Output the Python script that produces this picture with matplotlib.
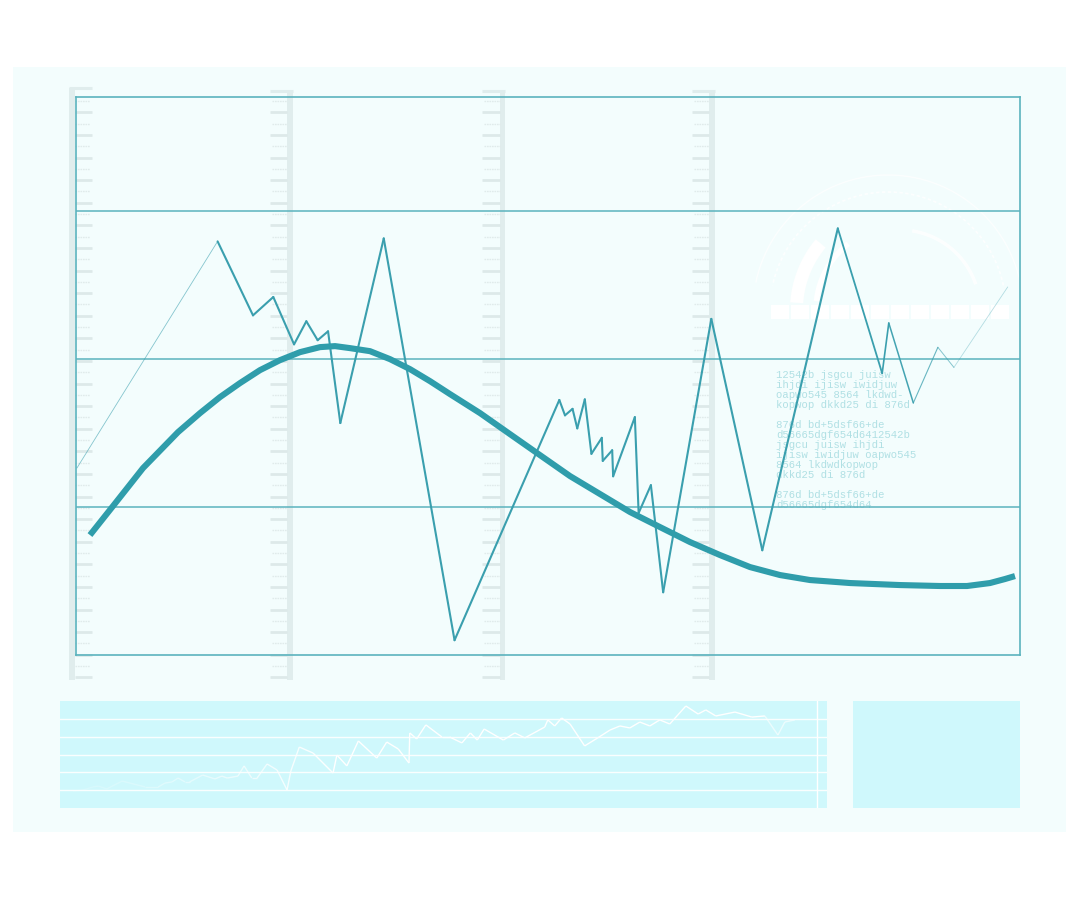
import matplotlib
matplotlib.use("Agg")
import matplotlib.pyplot as plt
from matplotlib.collections import LineCollection
from matplotlib.patches import Rectangle, Polygon
import numpy as np

# ---------------- data ----------------
zig_x = [0.1, 15.0, 18.75, 20.9, 23.1, 24.4, 25.6, 26.7, 28.0, 32.6, 40.1,
         51.2, 51.8, 52.6, 53.1, 53.9, 54.6, 55.7, 55.8, 56.8, 56.9, 59.2,
         59.6, 60.9, 62.2, 67.3, 72.7, 80.7, 85.4, 86.1, 88.7, 91.3, 93.0, 98.7]
zig_y = [31.6, 69.9, 57.4, 60.5, 52.5, 56.4, 53.2, 54.7, 39.2, 70.4, 2.5,
         43.1, 40.5, 41.6, 38.3, 43.2, 34.0, 36.7, 32.8, 34.6, 30.2, 40.2,
         24.0, 28.7, 10.6, 56.8, 17.7, 72.1, 47.6, 56.1, 42.6, 52.0, 48.6, 62.2]

trend_x = [1.48, 3.92, 7.10, 10.81, 13.14, 15.25, 17.37, 19.49, 21.61, 23.73,
           25.85, 27.44, 29.03, 31.14, 33.26, 35.38, 37.50, 39.62, 42.80,
           45.97, 49.15, 52.33, 55.51, 58.69, 61.86, 65.04, 68.22, 71.40,
           74.58, 77.75, 82.01, 87.29, 91.53, 94.39, 96.82, 98.41, 99.47]
trend_y = [20.27, 25.17, 31.59, 37.67, 40.88, 43.58, 45.95, 48.14, 49.83,
           51.18, 52.03, 52.20, 51.86, 51.35, 50.00, 48.31, 46.28, 44.09,
           40.88, 37.33, 33.78, 30.24, 27.20, 24.16, 21.62, 19.09, 16.89,
           14.86, 13.51, 12.67, 12.16, 11.82, 11.66, 11.66, 12.16, 12.84, 13.34]

grid_levels = [25, 50, 75]

spark_x = [1.7, 3.0, 4.3, 5.0, 6.1, 8.1, 11.1, 12.8, 13.7, 14.6, 15.4, 16.3,
           16.9, 18.6, 20.2, 21.1, 21.8, 23.2, 24.0, 25.0, 25.7, 27.0, 28.3,
           29.6, 30.1, 31.2, 33.0, 35.6, 36.1, 37.4, 38.9, 41.3, 42.6, 44.1,
           45.5, 45.6, 46.5, 47.7, 49.8, 50.8, 52.4, 53.5, 54.4, 55.3, 57.8,
           59.3, 60.6, 63.2, 63.6, 64.5, 65.4, 66.5, 68.4, 70.1, 71.7, 73.0,
           74.3, 75.6, 76.9, 78.2, 79.5, 81.6, 83.2, 84.2, 85.5, 88.0, 90.2,
           91.9, 93.6, 94.5, 95.8]
spark_y = [0.95, 1.01, 1.18, 1.23, 1.07, 1.51, 1.18, 1.18, 1.40, 1.46, 1.68,
           1.46, 1.46, 1.85, 1.63, 1.79, 1.68, 1.79, 2.36, 1.68, 1.68, 2.47,
           2.13, 1.01, 2.08, 3.42, 3.08, 1.96, 2.97, 2.36, 3.76, 2.80, 3.70,
           3.31, 2.52, 4.21, 3.87, 4.66, 3.98, 3.98, 3.65, 4.21, 3.81, 4.43,
           3.81, 4.21, 3.93, 4.54, 4.94, 4.60, 5.05, 4.71, 3.48, 3.93, 4.37,
           4.60, 4.49, 4.82, 4.60, 4.94, 4.71, 5.72, 5.27, 5.50, 5.16, 5.38,
           5.10, 5.16, 4.09, 4.82, 4.94]
spark_levels = [1, 2, 3, 4, 5]

text_lines = [
    "12542b jsgcu juisw",
    "ihjdi ijisw iwidjuw",
    "oapwo545 8564 lkdwd-",
    "kopwop dkkd25 di 876d",
    "",
    "876d bd+5dsf66+de",
    "d56665dgf654d6412542b",
    "jsgcu juisw ihjdi",
    "ijisw iwidjuw oapwo545",
    "8564 lkdwdkopwop",
    "dkkd25 di 876d",
    "",
    "876d bd+5dsf66+de",
    "d56665dgf654d64",
]

# ---------------- colours ----------------
PANEL = "#f3fdfd"
FRAME = "#5bb3be"
LINE = "#3a9fae"
TREND = "#2f9dab"
RULER = "#e0eded"
TXT = "#b0e0e4"
CYAN = "#cff8fc"

fig = plt.figure(figsize=(10.8, 9), dpi=100)
fig.patch.set_facecolor("white")

# background / decoration layer in pixel space
bg = fig.add_axes([0, 0, 1, 1])
bg.set_xlim(0, 1080)
bg.set_ylim(900, 0)
bg.axis("off")
bg.add_patch(Rectangle((13, 67), 1053, 765, fc=PANEL, ec="none", zorder=0))

# rulers
def ruler(band0, band1, tick_from, tick_to, top):
    bg.add_patch(Rectangle((band0, top), band1 - band0, 680 - top,
                           fc=RULER, ec="none", zorder=1))
    bg.plot([min(band0, tick_from), max(band1, tick_to)], [top, top],
            color=RULER, lw=2.2, zorder=1, solid_capstyle="butt")
    for k in range(52):
        y = 101 + 11.3 * k
        if k % 2 == 1:
            bg.plot([tick_from, tick_to], [y, y], color="#dde9e9", lw=2.0,
                    zorder=1, solid_capstyle="butt")
        else:
            if tick_to > band1:
                xs = [tick_from, tick_to - 2]
            else:
                xs = [tick_from + 2, tick_to]
            bg.plot(xs, [y, y], color="#e0ebeb", lw=1.0, ls=(0, (1.2, 0.6)),
                    zorder=1)

ruler(69, 75, 75, 92, 88)
ruler(287, 293, 270, 287, 91)
ruler(500, 505, 482, 500, 91)
ruler(709, 715, 692, 709, 91)

# gauge decoration (white)
cx, cy = 900, 310
th = np.linspace(np.radians(140), np.radians(176), 40)
outer = np.column_stack([cx + 110 * np.cos(th), cy - 110 * np.sin(th)])
inner = np.column_stack([cx + 97 * np.cos(th[::-1]), cy - 97 * np.sin(th[::-1])])
bg.add_patch(Polygon(np.vstack([outer, inner]), closed=True, fc="white",
                     ec="none", zorder=2))
th2 = np.linspace(np.radians(128), np.radians(174), 40)
bg.plot(cx + 84 * np.cos(th2), cy - 84 * np.sin(th2), color="white", lw=4,
        zorder=2, solid_capstyle="butt")
th3 = np.linspace(np.radians(12), np.radians(168), 80)
bg.plot(cx - 12 + 118 * np.cos(th3), cy - 118 * np.sin(th3), color="white",
        lw=1.2, ls=(0, (2, 1.5)), alpha=0.8, zorder=2)
bg.plot(cx - 12 + 135 * np.cos(th3), cy - 135 * np.sin(th3), color="white",
        lw=1.0, alpha=0.7, zorder=2)
th4 = np.linspace(np.radians(20), np.radians(80), 30)
bg.plot(cx + 80 * np.cos(th4), cy - 80 * np.sin(th4), color="white",
        lw=2.5, alpha=0.8, zorder=2)
for i in range(12):
    bg.add_patch(Rectangle((771 + 20 * i, 305), 17.5, 14, fc="white",
                           ec="none", zorder=2))

# text block
clip = Rectangle((700, 360), 400, 146.5, transform=bg.transData)
for i, s in enumerate(text_lines):
    if not s:
        continue
    t = bg.text(776, 375 + 10 * i, s, fontsize=7.7, family="Liberation Mono",
                color=TXT, va="center", ha="left", zorder=3)
    t.set_clip_path(clip)

# right cyan panel
bg.add_patch(Rectangle((853, 701), 167, 107, fc=CYAN, ec="none", zorder=1))

# ---------------- main chart ----------------
ax = fig.add_axes([76 / 1080, 245 / 900, 944 / 1080, 558 / 900])
ax.set_facecolor("none")
ax.set_xlim(0, 100)
ax.set_ylim(0, 94.3)
for s in ax.spines.values():
    s.set_color(FRAME)
    s.set_linewidth(1.2)
ax.set_xticks([])
ax.set_yticks(grid_levels)
ax.set_yticklabels([])
ax.tick_params(length=0)
ax.grid(axis="y", color=FRAME, lw=1.1)
ax.set_axisbelow(True)

pts = np.column_stack([zig_x, zig_y])
segs = np.stack([pts[:-1], pts[1:]], axis=1)
n = len(segs)
widths = [1.5] * n
alphas = [1.0] * n
widths[0], alphas[0] = 0.6, 0.6
tail = [(27, 1.3, 1.0), (28, 1.2, 1.0), (29, 1.1, 0.95), (30, 0.8, 0.75),
        (31, 0.7, 0.6), (32, 0.6, 0.35)]
for idx, w, a in tail:
    widths[idx], alphas[idx] = w, a
cols = [matplotlib.colors.to_rgba(LINE, a) for a in alphas]
ax.add_collection(LineCollection(segs, colors=cols, linewidths=widths,
                                 capstyle="round", joinstyle="miter", zorder=3))

ax.plot(trend_x, trend_y, color=TREND, lw=4.4, solid_capstyle="butt",
        solid_joinstyle="round", zorder=4)

# ---------------- bottom strip ----------------
bx = fig.add_axes([60 / 1080, 92 / 900, 767 / 1080, 107 / 900])
bx.set_facecolor(CYAN)
for s in bx.spines.values():
    s.set_visible(False)
bx.set_xticks([])
bx.set_yticks([])
bx.set_xlim(0, 100)
bx.set_ylim(0, 6)
for lv in spark_levels:
    bx.axhline(lv, color="white", lw=1.0, alpha=0.9)
bx.axvline(98.7, color="white", lw=1.0)
sp = np.column_stack([spark_x, spark_y])
ssegs = np.stack([sp[:-1], sp[1:]], axis=1)
sa = []
for a0 in spark_x[:-1]:
    if a0 < 35:
        sa.append(0.15 + 0.85 * (a0 / 35) ** 1.5)
    elif a0 > 91:
        sa.append(0.6)
    else:
        sa.append(1.0)
bx.add_collection(LineCollection(ssegs, colors=[(1, 1, 1, a) for a in sa],
                                 linewidths=1.0))

fig.savefig("out.png", dpi=100, facecolor="white")
